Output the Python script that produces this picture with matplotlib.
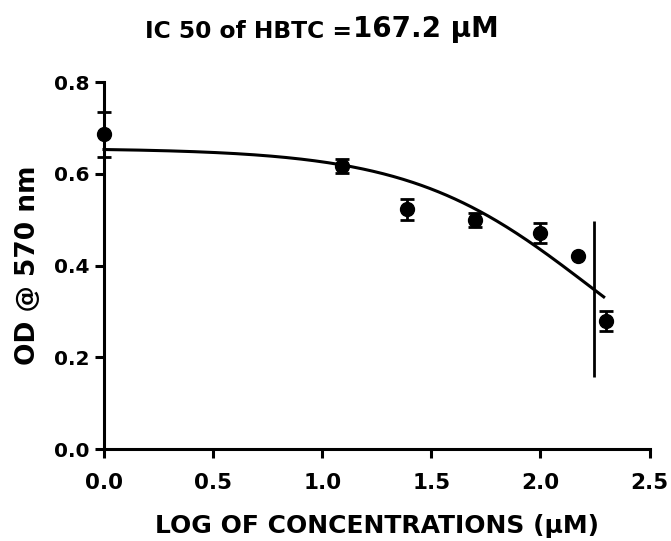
import numpy as np
import matplotlib.pyplot as plt

# log concentration (uM) vs OD at 570 nm, mean +/- SEM
log_conc = [0.0, 1.09, 1.39, 1.70, 2.0, 2.17, 2.30]
od_mean = [0.687, 0.618, 0.523, 0.500, 0.472, 0.421, 0.280]
od_err = [0.049, 0.015, 0.023, 0.015, 0.022, 0.0, 0.022]

# fitted 4-parameter logistic (top, bottom, logIC50, hill)
fit_top = 0.656
fit_bottom = 0.056
log_ic50 = np.log10(167.2)
hill = 1.05
fit_xmax = 2.29

# confidence bar drawn at the IC50
bar_x = 2.245
bar_lo = 0.158
bar_hi = 0.498

bold = {'family': 'DejaVu Sans', 'weight': 'bold'}

fig = plt.figure(figsize=(6.71, 5.41), dpi=100)
ax = fig.add_axes([0.155, 0.170, 0.813, 0.678])

xs = np.linspace(0, fit_xmax, 300)
ys = fit_bottom + (fit_top - fit_bottom) / (1 + 10 ** (hill * (xs - log_ic50)))
ax.plot(xs, ys, color='black', lw=2.2, zorder=3, clip_on=False)

ax.errorbar(log_conc, od_mean, yerr=od_err, fmt='o', color='black', ms=10,
            elinewidth=2, capsize=5, capthick=2, zorder=4, clip_on=False)
ax.vlines(bar_x, bar_lo, bar_hi, color='black', lw=2.0, zorder=3)

ax.set_xlim(0, 2.5)
ax.set_ylim(0, 0.8)
ax.set_xticks([0.0, 0.5, 1.0, 1.5, 2.0, 2.5])
ax.set_yticks([0.0, 0.2, 0.4, 0.6, 0.8])
ax.xaxis.set_major_formatter(plt.FormatStrFormatter('%.1f'))
ax.yaxis.set_major_formatter(plt.FormatStrFormatter('%.1f'))

for s in ['top', 'right']:
    ax.spines[s].set_visible(False)
for s in ['left', 'bottom']:
    ax.spines[s].set_linewidth(2.2)
ax.tick_params(axis='both', direction='out', length=6.5, width=2.2, color='black')
ax.tick_params(axis='x', pad=11)
ax.tick_params(axis='y', pad=4)
for lab in ax.get_xticklabels():
    lab.set_fontproperties(bold)
    lab.set_fontsize(15.5)
for lab in ax.get_yticklabels():
    lab.set_fontproperties(bold)
    lab.set_fontsize(14.5)

ax.set_xlabel('LOG OF CONCENTRATIONS (\u03bcM)', fontsize=18, va='baseline', **bold)
ax.xaxis.set_label_coords(0.5, -0.229)
ax.set_ylabel('OD @ 570 nm', fontsize=19, va='baseline', **bold)
ax.yaxis.set_label_coords(-0.126, 0.5)

# title in two parts: label then the value in a larger face
t1 = fig.text(0.216, 0.930, 'IC 50 of HBTC =', fontsize=16.8, ha='left',
              va='baseline', **bold)
ax.annotate('167.2 \u03bcM', xy=(1, 0), xycoords=t1, xytext=(1, 0),
            textcoords='offset points', fontsize=20, ha='left', va='bottom', **bold)

fig.savefig('out.png', dpi=100, facecolor='white')
